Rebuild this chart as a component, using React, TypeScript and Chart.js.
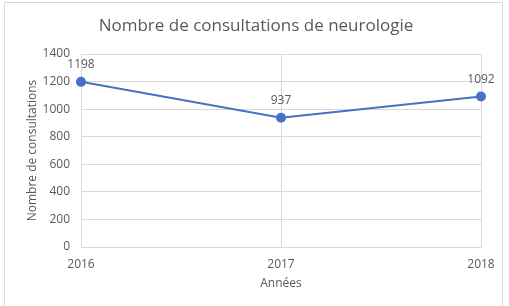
import React, { useEffect, useRef } from "react";
import { Chart, registerables } from "chart.js";

Chart.register(...registerables);

const years = ["2016", "2017", "2018"];
const consultations = [1198, 937, 1092];
const yTicks = [0, 200, 400, 600, 800, 1000, 1200, 1400];
const chartTitle = "Nombre de consultations de neurologie";
const xTitle = "Années";
const yTitle = "Nombre de consultations";

const W = 509;
const H = 306;
const FONT = "'Open Sans', 'Noto Sans', sans-serif";
const TEXT = "#595959";
const GRID = "#d9d9d9";
const LINE = "#4472C4";

const decorPlugin = {
  id: "decor",
  beforeDraw(chart: any) {
    const ctx = chart.ctx;
    ctx.save();
    ctx.fillStyle = "#ffffff";
    ctx.fillRect(0, 0, W, H);
    ctx.strokeStyle = GRID;
    ctx.lineWidth = 1;
    ctx.beginPath();
    ctx.moveTo(4.5, H + 2);
    ctx.lineTo(4.5, 2.5);
    ctx.lineTo(502.5, 2.5);
    ctx.lineTo(502.5, H + 2);
    ctx.stroke();
    ctx.restore();
  },
  afterDraw(chart: any) {
    const ctx = chart.ctx;
    const area = chart.chartArea;
    ctx.save();
    ctx.fillStyle = TEXT;
    ctx.textAlign = "center";
    ctx.textBaseline = "middle";
    ctx.font = `17px ${FONT}`;
    ctx.fillText(chartTitle, 256, 26);
    ctx.font = `12px ${FONT}`;
    ctx.fillText(xTitle, (area.left + area.right) / 2, 284);
    ctx.save();
    ctx.translate(33, (area.top + area.bottom) / 2);
    ctx.rotate(-Math.PI / 2);
    ctx.fillText(yTitle, 0, 0);
    ctx.restore();
    const meta = chart.getDatasetMeta(0);
    ctx.font = `12px ${FONT}`;
    meta.data.forEach((pt: any, i: number) => {
      ctx.fillText(String(consultations[i]), pt.x, pt.y - 17);
    });
    ctx.restore();
  },
};

export default function App() {
  const ref = useRef<HTMLCanvasElement | null>(null);
  useEffect(() => {
    if (!ref.current) return;
    const chart = new Chart(ref.current, {
      type: "line",
      data: {
        labels: years,
        datasets: [
          {
            data: consultations,
            borderColor: LINE,
            backgroundColor: LINE,
            borderWidth: 2,
            pointRadius: 4,
            pointBackgroundColor: LINE,
            pointBorderColor: LINE,
            tension: 0,
          },
        ],
      },
      options: {
        animation: false,
        responsive: false,
        devicePixelRatio: 1,
        layout: { padding: { left: 4, right: 28, top: 54, bottom: 0 } },
        plugins: {
          legend: { display: false },
          title: { display: false },
          tooltip: { enabled: false },
        },
        scales: {
          x: {
            type: "category",
            offset: false,
            grid: { color: GRID, drawTicks: false },
            border: { color: GRID },
            ticks: {
              color: TEXT,
              font: { family: FONT, size: 12 },
              padding: 10,
              maxRotation: 0,
            },
            afterFit(scale: any) {
              scale.height = H - 247;
            },
          },
          y: {
            min: 0,
            max: 1400,
            afterBuildTicks(scale: any) {
              scale.ticks = yTicks.map((v) => ({ value: v }));
            },
            grid: { color: GRID, drawTicks: false },
            border: { color: GRID },
            ticks: {
              color: TEXT,
              font: { family: FONT, size: 12 },
              padding: 11,
              callback: (v: any) => String(v),
            },
            afterFit(scale: any) {
              scale.width = 77;
            },
          },
        },
      },
      plugins: [decorPlugin],
    });
    return () => chart.destroy();
  }, []);
  return (
    <div style={{ position: "fixed", left: 0, top: 0, width: W, height: H, background: "#fff" }}>
      <canvas ref={ref} width={W} height={H} style={{ width: W, height: H, display: "block" }} />
    </div>
  );
}
